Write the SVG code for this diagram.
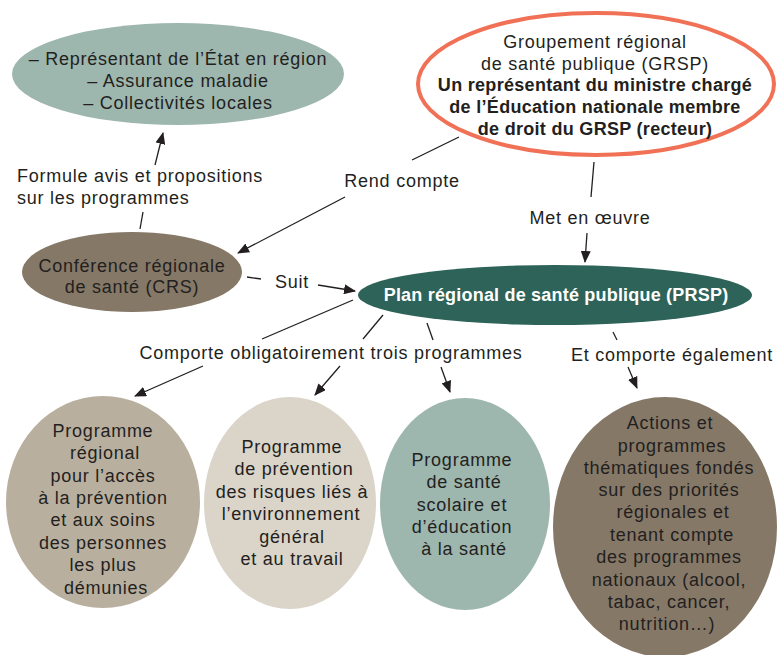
<svg xmlns="http://www.w3.org/2000/svg" width="777" height="655" viewBox="0 0 777 655">
<style>
text{font-family:"Liberation Sans",Arial,sans-serif;font-size:18px;letter-spacing:0.75px;fill:#231f20;text-anchor:middle}
.b{font-weight:bold;letter-spacing:0.3px}
.l{text-anchor:start}
.w{fill:#ffffff;font-weight:bold;letter-spacing:0.2px}
.c{stroke:#231f20;stroke-width:1.3;fill:none}
</style>
<defs>
<marker id="ah" viewBox="0 0 12 10" refX="11" refY="5" markerWidth="12" markerHeight="10" markerUnits="userSpaceOnUse" orient="auto">
<path d="M0,0 L12,5 L0,10 z" fill="#231f20"/>
</marker>
</defs>
<rect width="777" height="655" fill="#ffffff"/>
<g id="connectors">
<line class="c" x1="140" y1="229" x2="143" y2="212"/>
<line class="c" x1="155" y1="165" x2="163" y2="133" marker-end="url(#ah)"/>
<line class="c" x1="459" y1="137" x2="412" y2="160"/>
<line class="c" x1="345" y1="197" x2="238" y2="253" marker-end="url(#ah)"/>
<line class="c" x1="594" y1="162" x2="591" y2="197"/>
<line class="c" x1="587" y1="233" x2="585" y2="262" marker-end="url(#ah)"/>
<line class="c" x1="247" y1="277" x2="261" y2="279"/>
<line class="c" x1="318" y1="285" x2="355" y2="291" marker-end="url(#ah)"/>
<line class="c" x1="353" y1="300" x2="262" y2="339"/>
<line class="c" x1="203" y1="366" x2="135" y2="396" marker-end="url(#ah)"/>
<line class="c" x1="383" y1="315" x2="363" y2="339"/>
<line class="c" x1="340" y1="366" x2="315" y2="395" marker-end="url(#ah)"/>
<line class="c" x1="427" y1="323" x2="433" y2="340"/>
<line class="c" x1="441" y1="367" x2="450" y2="392" marker-end="url(#ah)"/>
<line class="c" x1="613" y1="332" x2="617" y2="340"/>
<line class="c" x1="628" y1="367" x2="637" y2="388" marker-end="url(#ah)"/>
</g>
<g id="labels">
<text class="l" x="17" y="182">Formule avis et propositions</text>
<text class="l" x="17" y="204">sur les programmes</text>
<text x="402" y="187">Rend compte</text>
<text x="590" y="224">Met en œuvre</text>
<text x="292" y="288">Suit</text>
<text x="331" y="359">Comporte obligatoirement trois programmes</text>
<text x="672" y="361">Et comporte également</text>
</g>
<g id="acteurs">
<ellipse cx="178" cy="74" rx="166" ry="51" fill="#9db6ae"/>
<text x="178" y="65">– Représentant de l’État en région</text>
<text x="178" y="87">– Assurance maladie</text>
<text x="178" y="109">– Collectivités locales</text>
</g>
<g id="grsp">
<ellipse cx="596" cy="84" rx="178" ry="71" fill="#ffffff" stroke="#f07155" stroke-width="4"/>
<text x="595" y="48">Groupement régional</text>
<text x="595" y="70">de santé publique (GRSP)</text>
<text class="b" x="595" y="91">Un représentant du ministre chargé</text>
<text class="b" x="595" y="113">de l’Éducation nationale membre</text>
<text class="b" x="595" y="135">de droit du GRSP (recteur)</text>
</g>
<g id="crs">
<ellipse cx="132" cy="272" rx="110" ry="40" fill="#857867"/>
<text x="132" y="272">Conférence régionale</text>
<text x="132" y="293">de santé (CRS)</text>
</g>
<g id="prsp">
<ellipse cx="555" cy="295" rx="197" ry="30" fill="#2d6358"/>
<text class="w" x="556" y="301">Plan régional de santé publique (PRSP)</text>
</g>
<g id="prog1">
<ellipse cx="103" cy="502" rx="97" ry="106" fill="#b9af9f"/>
<text x="103" y="437">Programme</text>
<text x="105" y="459">régional</text>
<text x="103" y="482">pour l’accès</text>
<text x="103" y="504">à la prévention</text>
<text x="103" y="526">et aux soins</text>
<text x="103" y="549">des personnes</text>
<text x="103" y="571">les plus</text>
<text x="106" y="594">démunies</text>
</g>
<g id="prog2">
<ellipse cx="290" cy="503" rx="86" ry="106" fill="#dad4c9"/>
<text x="292" y="453">Programme</text>
<text x="294" y="475">de prévention</text>
<text x="292" y="498">des risques liés à</text>
<text x="291" y="520">l’environnement</text>
<text x="292" y="543">général</text>
<text x="292" y="565">et au travail</text>
</g>
<g id="prog3">
<ellipse cx="465" cy="504" rx="85" ry="106" fill="#9db6ae"/>
<text x="462" y="466">Programme</text>
<text x="464" y="488">de santé</text>
<text x="462" y="511">scolaire et</text>
<text x="462" y="533">d’éducation</text>
<text x="464" y="555">à la santé</text>
</g>
<g id="actions">
<ellipse cx="665" cy="527" rx="112" ry="130" fill="#857867"/>
<text x="670" y="429">Actions et</text>
<text x="672" y="452">programmes</text>
<text x="669" y="474">thématiques fondés</text>
<text x="669" y="496">sur des priorités</text>
<text x="673" y="518">régionales et</text>
<text x="672" y="541">tenant compte</text>
<text x="669" y="563">des programmes</text>
<text x="669" y="586">nationaux (alcool,</text>
<text x="669" y="608">tabac, cancer,</text>
<text x="667" y="630">nutrition…)</text>
</g>
</svg>
